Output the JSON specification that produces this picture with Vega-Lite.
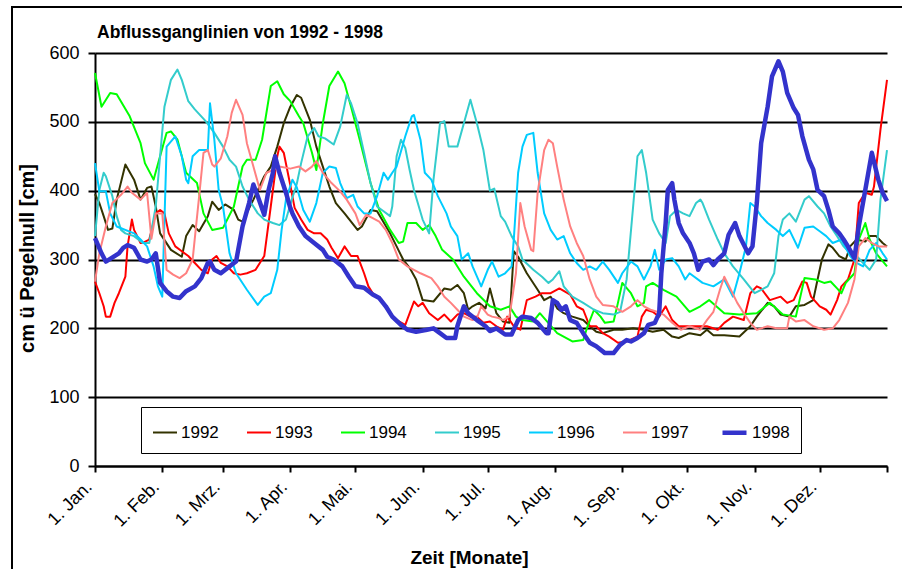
{
"$schema": "https://vega.github.io/schema/vega-lite/v6.json",
"width": 900, "height": 580,
"autosize": {"type": "none"},
"padding": {"left": 12, "top": 7, "right": 0, "bottom": 0},
"background": "white",
"config": {"font": "Liberation Sans", "view": {"stroke": "black", "strokeWidth": 2}},
"title": {"text": "Abflussganglinien von 1992 - 1998", "anchor": "start", "frame": "group", "dx": 85, "offset": -48, "baseline": "alphabetic", "fontSize": 17.5, "fontWeight": "bold", "color": "black", "font": "Liberation Sans"},
"datasets": {"pegel": [
{"Jahr":"1992","Tag":0,"cm":395},{"Jahr":"1992","Tag":2,"cm":382},{"Jahr":"1992","Tag":4,"cm":363},{"Jahr":"1992","Tag":6,"cm":343},{"Jahr":"1992","Tag":8,"cm":345},{"Jahr":"1992","Tag":10,"cm":387},{"Jahr":"1992","Tag":14,"cm":438},{"Jahr":"1992","Tag":18,"cm":416},{"Jahr":"1992","Tag":21,"cm":387},{"Jahr":"1992","Tag":24,"cm":404},{"Jahr":"1992","Tag":26,"cm":406},{"Jahr":"1992","Tag":28,"cm":377},{"Jahr":"1992","Tag":30,"cm":338},{"Jahr":"1992","Tag":35,"cm":314},{"Jahr":"1992","Tag":40,"cm":304},{"Jahr":"1992","Tag":42,"cm":334},{"Jahr":"1992","Tag":45,"cm":350},{"Jahr":"1992","Tag":48,"cm":341},{"Jahr":"1992","Tag":52,"cm":363},{"Jahr":"1992","Tag":54,"cm":384},{"Jahr":"1992","Tag":57,"cm":372},{"Jahr":"1992","Tag":60,"cm":380},{"Jahr":"1992","Tag":64,"cm":372},{"Jahr":"1992","Tag":66,"cm":358},{"Jahr":"1992","Tag":68,"cm":355},{"Jahr":"1992","Tag":73,"cm":387},{"Jahr":"1992","Tag":78,"cm":421},{"Jahr":"1992","Tag":81,"cm":435},{"Jahr":"1992","Tag":84,"cm":464},{"Jahr":"1992","Tag":87,"cm":498},{"Jahr":"1992","Tag":90,"cm":522},{"Jahr":"1992","Tag":93,"cm":539},{"Jahr":"1992","Tag":95,"cm":535},{"Jahr":"1992","Tag":99,"cm":503},{"Jahr":"1992","Tag":102,"cm":464},{"Jahr":"1992","Tag":105,"cm":435},{"Jahr":"1992","Tag":108,"cm":406},{"Jahr":"1992","Tag":111,"cm":382},{"Jahr":"1992","Tag":115,"cm":367},{"Jahr":"1992","Tag":118,"cm":355},{"Jahr":"1992","Tag":121,"cm":343},{"Jahr":"1992","Tag":123,"cm":348},{"Jahr":"1992","Tag":127,"cm":372},{"Jahr":"1992","Tag":130,"cm":370},{"Jahr":"1992","Tag":136,"cm":338},{"Jahr":"1992","Tag":139,"cm":319},{"Jahr":"1992","Tag":142,"cm":300},{"Jahr":"1992","Tag":145,"cm":288},{"Jahr":"1992","Tag":148,"cm":271},{"Jahr":"1992","Tag":151,"cm":241},{"Jahr":"1992","Tag":156,"cm":239},{"Jahr":"1992","Tag":161,"cm":258},{"Jahr":"1992","Tag":164,"cm":256},{"Jahr":"1992","Tag":167,"cm":263},{"Jahr":"1992","Tag":170,"cm":251},{"Jahr":"1992","Tag":172,"cm":227},{"Jahr":"1992","Tag":174,"cm":232},{"Jahr":"1992","Tag":177,"cm":237},{"Jahr":"1992","Tag":180,"cm":229},{"Jahr":"1992","Tag":182,"cm":258},{"Jahr":"1992","Tag":185,"cm":222},{"Jahr":"1992","Tag":188,"cm":210},{"Jahr":"1992","Tag":191,"cm":208},{"Jahr":"1992","Tag":193,"cm":312},{"Jahr":"1992","Tag":195,"cm":304},{"Jahr":"1992","Tag":199,"cm":280},{"Jahr":"1992","Tag":204,"cm":256},{"Jahr":"1992","Tag":207,"cm":241},{"Jahr":"1992","Tag":210,"cm":246},{"Jahr":"1992","Tag":213,"cm":229},{"Jahr":"1992","Tag":216,"cm":222},{"Jahr":"1992","Tag":220,"cm":217},{"Jahr":"1992","Tag":225,"cm":212},{"Jahr":"1992","Tag":228,"cm":203},{"Jahr":"1992","Tag":231,"cm":195},{"Jahr":"1992","Tag":234,"cm":193},{"Jahr":"1992","Tag":239,"cm":198},{"Jahr":"1992","Tag":243,"cm":198},{"Jahr":"1992","Tag":248,"cm":200},{"Jahr":"1992","Tag":253,"cm":198},{"Jahr":"1992","Tag":257,"cm":195},{"Jahr":"1992","Tag":262,"cm":198},{"Jahr":"1992","Tag":266,"cm":188},{"Jahr":"1992","Tag":269,"cm":186},{"Jahr":"1992","Tag":274,"cm":193},{"Jahr":"1992","Tag":279,"cm":190},{"Jahr":"1992","Tag":282,"cm":198},{"Jahr":"1992","Tag":285,"cm":190},{"Jahr":"1992","Tag":290,"cm":190},{"Jahr":"1992","Tag":297,"cm":188},{"Jahr":"1992","Tag":302,"cm":203},{"Jahr":"1992","Tag":305,"cm":217},{"Jahr":"1992","Tag":310,"cm":237},{"Jahr":"1992","Tag":313,"cm":232},{"Jahr":"1992","Tag":316,"cm":220},{"Jahr":"1992","Tag":320,"cm":217},{"Jahr":"1992","Tag":323,"cm":232},{"Jahr":"1992","Tag":327,"cm":234},{"Jahr":"1992","Tag":331,"cm":241},{"Jahr":"1992","Tag":333,"cm":271},{"Jahr":"1992","Tag":335,"cm":300},{"Jahr":"1992","Tag":338,"cm":322},{"Jahr":"1992","Tag":340,"cm":317},{"Jahr":"1992","Tag":343,"cm":305},{"Jahr":"1992","Tag":346,"cm":300},{"Jahr":"1992","Tag":348,"cm":319},{"Jahr":"1992","Tag":351,"cm":329},{"Jahr":"1992","Tag":355,"cm":326},{"Jahr":"1992","Tag":357,"cm":334},{"Jahr":"1992","Tag":360,"cm":334},{"Jahr":"1992","Tag":363,"cm":324},{"Jahr":"1992","Tag":365,"cm":319},
{"Jahr":"1993","Tag":0,"cm":268},{"Jahr":"1993","Tag":2,"cm":251},{"Jahr":"1993","Tag":4,"cm":232},{"Jahr":"1993","Tag":5,"cm":217},{"Jahr":"1993","Tag":7,"cm":217},{"Jahr":"1993","Tag":9,"cm":237},{"Jahr":"1993","Tag":11,"cm":251},{"Jahr":"1993","Tag":14,"cm":275},{"Jahr":"1993","Tag":15,"cm":319},{"Jahr":"1993","Tag":17,"cm":358},{"Jahr":"1993","Tag":18,"cm":343},{"Jahr":"1993","Tag":21,"cm":324},{"Jahr":"1993","Tag":22,"cm":324},{"Jahr":"1993","Tag":25,"cm":329},{"Jahr":"1993","Tag":28,"cm":367},{"Jahr":"1993","Tag":30,"cm":372},{"Jahr":"1993","Tag":32,"cm":367},{"Jahr":"1993","Tag":34,"cm":338},{"Jahr":"1993","Tag":37,"cm":319},{"Jahr":"1993","Tag":40,"cm":312},{"Jahr":"1993","Tag":43,"cm":305},{"Jahr":"1993","Tag":46,"cm":295},{"Jahr":"1993","Tag":49,"cm":285},{"Jahr":"1993","Tag":52,"cm":280},{"Jahr":"1993","Tag":54,"cm":300},{"Jahr":"1993","Tag":56,"cm":305},{"Jahr":"1993","Tag":58,"cm":295},{"Jahr":"1993","Tag":61,"cm":290},{"Jahr":"1993","Tag":64,"cm":280},{"Jahr":"1993","Tag":67,"cm":278},{"Jahr":"1993","Tag":70,"cm":280},{"Jahr":"1993","Tag":74,"cm":285},{"Jahr":"1993","Tag":78,"cm":305},{"Jahr":"1993","Tag":81,"cm":377},{"Jahr":"1993","Tag":84,"cm":450},{"Jahr":"1993","Tag":85,"cm":464},{"Jahr":"1993","Tag":87,"cm":455},{"Jahr":"1993","Tag":90,"cm":408},{"Jahr":"1993","Tag":92,"cm":375},{"Jahr":"1993","Tag":95,"cm":358},{"Jahr":"1993","Tag":98,"cm":343},{"Jahr":"1993","Tag":101,"cm":338},{"Jahr":"1993","Tag":104,"cm":338},{"Jahr":"1993","Tag":107,"cm":329},{"Jahr":"1993","Tag":109,"cm":317},{"Jahr":"1993","Tag":112,"cm":302},{"Jahr":"1993","Tag":115,"cm":319},{"Jahr":"1993","Tag":118,"cm":305},{"Jahr":"1993","Tag":121,"cm":305},{"Jahr":"1993","Tag":124,"cm":280},{"Jahr":"1993","Tag":126,"cm":261},{"Jahr":"1993","Tag":128,"cm":251},{"Jahr":"1993","Tag":132,"cm":242},{"Jahr":"1993","Tag":136,"cm":222},{"Jahr":"1993","Tag":139,"cm":212},{"Jahr":"1993","Tag":143,"cm":205},{"Jahr":"1993","Tag":147,"cm":239},{"Jahr":"1993","Tag":149,"cm":232},{"Jahr":"1993","Tag":151,"cm":237},{"Jahr":"1993","Tag":154,"cm":222},{"Jahr":"1993","Tag":158,"cm":212},{"Jahr":"1993","Tag":161,"cm":220},{"Jahr":"1993","Tag":164,"cm":210},{"Jahr":"1993","Tag":167,"cm":220},{"Jahr":"1993","Tag":170,"cm":222},{"Jahr":"1993","Tag":173,"cm":217},{"Jahr":"1993","Tag":176,"cm":217},{"Jahr":"1993","Tag":179,"cm":208},{"Jahr":"1993","Tag":182,"cm":210},{"Jahr":"1993","Tag":185,"cm":203},{"Jahr":"1993","Tag":188,"cm":198},{"Jahr":"1993","Tag":190,"cm":217},{"Jahr":"1993","Tag":193,"cm":203},{"Jahr":"1993","Tag":196,"cm":198},{"Jahr":"1993","Tag":199,"cm":241},{"Jahr":"1993","Tag":203,"cm":246},{"Jahr":"1993","Tag":206,"cm":251},{"Jahr":"1993","Tag":210,"cm":251},{"Jahr":"1993","Tag":214,"cm":258},{"Jahr":"1993","Tag":219,"cm":249},{"Jahr":"1993","Tag":222,"cm":232},{"Jahr":"1993","Tag":225,"cm":227},{"Jahr":"1993","Tag":228,"cm":203},{"Jahr":"1993","Tag":231,"cm":203},{"Jahr":"1993","Tag":234,"cm":193},{"Jahr":"1993","Tag":237,"cm":188},{"Jahr":"1993","Tag":241,"cm":179},{"Jahr":"1993","Tag":245,"cm":181},{"Jahr":"1993","Tag":250,"cm":188},{"Jahr":"1993","Tag":252,"cm":217},{"Jahr":"1993","Tag":254,"cm":227},{"Jahr":"1993","Tag":257,"cm":224},{"Jahr":"1993","Tag":260,"cm":217},{"Jahr":"1993","Tag":263,"cm":232},{"Jahr":"1993","Tag":266,"cm":212},{"Jahr":"1993","Tag":269,"cm":203},{"Jahr":"1993","Tag":274,"cm":203},{"Jahr":"1993","Tag":279,"cm":203},{"Jahr":"1993","Tag":282,"cm":203},{"Jahr":"1993","Tag":287,"cm":198},{"Jahr":"1993","Tag":290,"cm":208},{"Jahr":"1993","Tag":294,"cm":217},{"Jahr":"1993","Tag":299,"cm":212},{"Jahr":"1993","Tag":302,"cm":251},{"Jahr":"1993","Tag":305,"cm":261},{"Jahr":"1993","Tag":307,"cm":258},{"Jahr":"1993","Tag":311,"cm":241},{"Jahr":"1993","Tag":316,"cm":246},{"Jahr":"1993","Tag":319,"cm":237},{"Jahr":"1993","Tag":322,"cm":241},{"Jahr":"1993","Tag":326,"cm":268},{"Jahr":"1993","Tag":328,"cm":266},{"Jahr":"1993","Tag":330,"cm":246},{"Jahr":"1993","Tag":334,"cm":232},{"Jahr":"1993","Tag":337,"cm":227},{"Jahr":"1993","Tag":339,"cm":220},{"Jahr":"1993","Tag":342,"cm":241},{"Jahr":"1993","Tag":344,"cm":261},{"Jahr":"1993","Tag":347,"cm":271},{"Jahr":"1993","Tag":350,"cm":300},{"Jahr":"1993","Tag":352,"cm":382},{"Jahr":"1993","Tag":355,"cm":397},{"Jahr":"1993","Tag":358,"cm":394},{"Jahr":"1993","Tag":359,"cm":406},{"Jahr":"1993","Tag":362,"cm":489},{"Jahr":"1993","Tag":365,"cm":561},
{"Jahr":"1994","Tag":0,"cm":571},{"Jahr":"1994","Tag":3,"cm":522},{"Jahr":"1994","Tag":7,"cm":542},{"Jahr":"1994","Tag":10,"cm":540},{"Jahr":"1994","Tag":16,"cm":508},{"Jahr":"1994","Tag":21,"cm":469},{"Jahr":"1994","Tag":23,"cm":440},{"Jahr":"1994","Tag":27,"cm":416},{"Jahr":"1994","Tag":33,"cm":484},{"Jahr":"1994","Tag":35,"cm":486},{"Jahr":"1994","Tag":38,"cm":474},{"Jahr":"1994","Tag":42,"cm":426},{"Jahr":"1994","Tag":47,"cm":411},{"Jahr":"1994","Tag":50,"cm":367},{"Jahr":"1994","Tag":54,"cm":343},{"Jahr":"1994","Tag":59,"cm":346},{"Jahr":"1994","Tag":64,"cm":377},{"Jahr":"1994","Tag":68,"cm":435},{"Jahr":"1994","Tag":70,"cm":445},{"Jahr":"1994","Tag":74,"cm":445},{"Jahr":"1994","Tag":77,"cm":474},{"Jahr":"1994","Tag":81,"cm":552},{"Jahr":"1994","Tag":84,"cm":559},{"Jahr":"1994","Tag":87,"cm":540},{"Jahr":"1994","Tag":90,"cm":530},{"Jahr":"1994","Tag":94,"cm":508},{"Jahr":"1994","Tag":96,"cm":498},{"Jahr":"1994","Tag":100,"cm":455},{"Jahr":"1994","Tag":102,"cm":430},{"Jahr":"1994","Tag":105,"cm":498},{"Jahr":"1994","Tag":108,"cm":552},{"Jahr":"1994","Tag":112,"cm":573},{"Jahr":"1994","Tag":115,"cm":556},{"Jahr":"1994","Tag":118,"cm":522},{"Jahr":"1994","Tag":122,"cm":474},{"Jahr":"1994","Tag":127,"cm":411},{"Jahr":"1994","Tag":131,"cm":372},{"Jahr":"1994","Tag":136,"cm":343},{"Jahr":"1994","Tag":140,"cm":324},{"Jahr":"1994","Tag":142,"cm":326},{"Jahr":"1994","Tag":144,"cm":353},{"Jahr":"1994","Tag":148,"cm":353},{"Jahr":"1994","Tag":151,"cm":343},{"Jahr":"1994","Tag":154,"cm":350},{"Jahr":"1994","Tag":157,"cm":334},{"Jahr":"1994","Tag":160,"cm":314},{"Jahr":"1994","Tag":165,"cm":300},{"Jahr":"1994","Tag":170,"cm":275},{"Jahr":"1994","Tag":176,"cm":251},{"Jahr":"1994","Tag":182,"cm":232},{"Jahr":"1994","Tag":187,"cm":227},{"Jahr":"1994","Tag":191,"cm":232},{"Jahr":"1994","Tag":194,"cm":217},{"Jahr":"1994","Tag":197,"cm":212},{"Jahr":"1994","Tag":202,"cm":210},{"Jahr":"1994","Tag":205,"cm":222},{"Jahr":"1994","Tag":213,"cm":193},{"Jahr":"1994","Tag":220,"cm":181},{"Jahr":"1994","Tag":225,"cm":183},{"Jahr":"1994","Tag":227,"cm":203},{"Jahr":"1994","Tag":230,"cm":227},{"Jahr":"1994","Tag":233,"cm":217},{"Jahr":"1994","Tag":235,"cm":208},{"Jahr":"1994","Tag":239,"cm":210},{"Jahr":"1994","Tag":241,"cm":237},{"Jahr":"1994","Tag":243,"cm":266},{"Jahr":"1994","Tag":247,"cm":251},{"Jahr":"1994","Tag":250,"cm":232},{"Jahr":"1994","Tag":253,"cm":237},{"Jahr":"1994","Tag":254,"cm":261},{"Jahr":"1994","Tag":257,"cm":266},{"Jahr":"1994","Tag":262,"cm":256},{"Jahr":"1994","Tag":268,"cm":246},{"Jahr":"1994","Tag":274,"cm":224},{"Jahr":"1994","Tag":279,"cm":232},{"Jahr":"1994","Tag":283,"cm":241},{"Jahr":"1994","Tag":290,"cm":222},{"Jahr":"1994","Tag":297,"cm":220},{"Jahr":"1994","Tag":305,"cm":222},{"Jahr":"1994","Tag":311,"cm":237},{"Jahr":"1994","Tag":317,"cm":220},{"Jahr":"1994","Tag":323,"cm":217},{"Jahr":"1994","Tag":327,"cm":273},{"Jahr":"1994","Tag":332,"cm":271},{"Jahr":"1994","Tag":336,"cm":266},{"Jahr":"1994","Tag":339,"cm":268},{"Jahr":"1994","Tag":342,"cm":258},{"Jahr":"1994","Tag":344,"cm":251},{"Jahr":"1994","Tag":346,"cm":266},{"Jahr":"1994","Tag":350,"cm":280},{"Jahr":"1994","Tag":352,"cm":329},{"Jahr":"1994","Tag":355,"cm":353},{"Jahr":"1994","Tag":357,"cm":329},{"Jahr":"1994","Tag":360,"cm":309},{"Jahr":"1994","Tag":365,"cm":290},
{"Jahr":"1995","Tag":0,"cm":334},{"Jahr":"1995","Tag":2,"cm":401},{"Jahr":"1995","Tag":4,"cm":426},{"Jahr":"1995","Tag":5,"cm":421},{"Jahr":"1995","Tag":8,"cm":392},{"Jahr":"1995","Tag":10,"cm":363},{"Jahr":"1995","Tag":12,"cm":343},{"Jahr":"1995","Tag":14,"cm":338},{"Jahr":"1995","Tag":18,"cm":334},{"Jahr":"1995","Tag":22,"cm":324},{"Jahr":"1995","Tag":25,"cm":324},{"Jahr":"1995","Tag":28,"cm":377},{"Jahr":"1995","Tag":30,"cm":450},{"Jahr":"1995","Tag":32,"cm":522},{"Jahr":"1995","Tag":35,"cm":561},{"Jahr":"1995","Tag":38,"cm":576},{"Jahr":"1995","Tag":40,"cm":561},{"Jahr":"1995","Tag":43,"cm":530},{"Jahr":"1995","Tag":46,"cm":518},{"Jahr":"1995","Tag":51,"cm":501},{"Jahr":"1995","Tag":55,"cm":484},{"Jahr":"1995","Tag":59,"cm":464},{"Jahr":"1995","Tag":62,"cm":445},{"Jahr":"1995","Tag":65,"cm":435},{"Jahr":"1995","Tag":68,"cm":406},{"Jahr":"1995","Tag":71,"cm":387},{"Jahr":"1995","Tag":75,"cm":367},{"Jahr":"1995","Tag":78,"cm":358},{"Jahr":"1995","Tag":82,"cm":353},{"Jahr":"1995","Tag":85,"cm":350},{"Jahr":"1995","Tag":88,"cm":358},{"Jahr":"1995","Tag":91,"cm":390},{"Jahr":"1995","Tag":93,"cm":410},{"Jahr":"1995","Tag":95,"cm":440},{"Jahr":"1995","Tag":98,"cm":479},{"Jahr":"1995","Tag":101,"cm":491},{"Jahr":"1995","Tag":103,"cm":479},{"Jahr":"1995","Tag":106,"cm":476},{"Jahr":"1995","Tag":110,"cm":467},{"Jahr":"1995","Tag":113,"cm":493},{"Jahr":"1995","Tag":116,"cm":539},{"Jahr":"1995","Tag":118,"cm":527},{"Jahr":"1995","Tag":121,"cm":498},{"Jahr":"1995","Tag":124,"cm":455},{"Jahr":"1995","Tag":127,"cm":411},{"Jahr":"1995","Tag":130,"cm":377},{"Jahr":"1995","Tag":133,"cm":370},{"Jahr":"1995","Tag":136,"cm":363},{"Jahr":"1995","Tag":137,"cm":377},{"Jahr":"1995","Tag":139,"cm":450},{"Jahr":"1995","Tag":141,"cm":474},{"Jahr":"1995","Tag":143,"cm":462},{"Jahr":"1995","Tag":145,"cm":430},{"Jahr":"1995","Tag":147,"cm":401},{"Jahr":"1995","Tag":151,"cm":358},{"Jahr":"1995","Tag":154,"cm":338},{"Jahr":"1995","Tag":156,"cm":416},{"Jahr":"1995","Tag":159,"cm":498},{"Jahr":"1995","Tag":161,"cm":501},{"Jahr":"1995","Tag":163,"cm":464},{"Jahr":"1995","Tag":167,"cm":464},{"Jahr":"1995","Tag":170,"cm":498},{"Jahr":"1995","Tag":173,"cm":532},{"Jahr":"1995","Tag":176,"cm":498},{"Jahr":"1995","Tag":179,"cm":459},{"Jahr":"1995","Tag":182,"cm":400},{"Jahr":"1995","Tag":184,"cm":403},{"Jahr":"1995","Tag":187,"cm":363},{"Jahr":"1995","Tag":189,"cm":355},{"Jahr":"1995","Tag":192,"cm":334},{"Jahr":"1995","Tag":195,"cm":319},{"Jahr":"1995","Tag":197,"cm":300},{"Jahr":"1995","Tag":202,"cm":285},{"Jahr":"1995","Tag":206,"cm":275},{"Jahr":"1995","Tag":209,"cm":266},{"Jahr":"1995","Tag":211,"cm":271},{"Jahr":"1995","Tag":214,"cm":283},{"Jahr":"1995","Tag":216,"cm":261},{"Jahr":"1995","Tag":220,"cm":246},{"Jahr":"1995","Tag":225,"cm":237},{"Jahr":"1995","Tag":230,"cm":227},{"Jahr":"1995","Tag":234,"cm":222},{"Jahr":"1995","Tag":239,"cm":220},{"Jahr":"1995","Tag":242,"cm":224},{"Jahr":"1995","Tag":245,"cm":271},{"Jahr":"1995","Tag":248,"cm":377},{"Jahr":"1995","Tag":250,"cm":450},{"Jahr":"1995","Tag":252,"cm":459},{"Jahr":"1995","Tag":254,"cm":426},{"Jahr":"1995","Tag":257,"cm":358},{"Jahr":"1995","Tag":260,"cm":338},{"Jahr":"1995","Tag":263,"cm":324},{"Jahr":"1995","Tag":265,"cm":363},{"Jahr":"1995","Tag":268,"cm":372},{"Jahr":"1995","Tag":271,"cm":367},{"Jahr":"1995","Tag":274,"cm":363},{"Jahr":"1995","Tag":277,"cm":382},{"Jahr":"1995","Tag":279,"cm":387},{"Jahr":"1995","Tag":280,"cm":382},{"Jahr":"1995","Tag":283,"cm":358},{"Jahr":"1995","Tag":287,"cm":329},{"Jahr":"1995","Tag":290,"cm":309},{"Jahr":"1995","Tag":294,"cm":290},{"Jahr":"1995","Tag":299,"cm":271},{"Jahr":"1995","Tag":304,"cm":251},{"Jahr":"1995","Tag":307,"cm":256},{"Jahr":"1995","Tag":310,"cm":261},{"Jahr":"1995","Tag":313,"cm":280},{"Jahr":"1995","Tag":315,"cm":334},{"Jahr":"1995","Tag":317,"cm":358},{"Jahr":"1995","Tag":320,"cm":367},{"Jahr":"1995","Tag":323,"cm":355},{"Jahr":"1995","Tag":327,"cm":387},{"Jahr":"1995","Tag":329,"cm":392},{"Jahr":"1995","Tag":333,"cm":377},{"Jahr":"1995","Tag":336,"cm":367},{"Jahr":"1995","Tag":339,"cm":348},{"Jahr":"1995","Tag":342,"cm":334},{"Jahr":"1995","Tag":345,"cm":319},{"Jahr":"1995","Tag":348,"cm":309},{"Jahr":"1995","Tag":351,"cm":305},{"Jahr":"1995","Tag":354,"cm":295},{"Jahr":"1995","Tag":357,"cm":285},{"Jahr":"1995","Tag":360,"cm":300},{"Jahr":"1995","Tag":362,"cm":387},{"Jahr":"1995","Tag":365,"cm":459},
{"Jahr":"1996","Tag":0,"cm":440},{"Jahr":"1996","Tag":2,"cm":399},{"Jahr":"1996","Tag":5,"cm":399},{"Jahr":"1996","Tag":7,"cm":367},{"Jahr":"1996","Tag":10,"cm":348},{"Jahr":"1996","Tag":18,"cm":338},{"Jahr":"1996","Tag":21,"cm":329},{"Jahr":"1996","Tag":24,"cm":319},{"Jahr":"1996","Tag":27,"cm":290},{"Jahr":"1996","Tag":29,"cm":261},{"Jahr":"1996","Tag":31,"cm":246},{"Jahr":"1996","Tag":33,"cm":464},{"Jahr":"1996","Tag":37,"cm":479},{"Jahr":"1996","Tag":40,"cm":450},{"Jahr":"1996","Tag":42,"cm":416},{"Jahr":"1996","Tag":43,"cm":411},{"Jahr":"1996","Tag":45,"cm":450},{"Jahr":"1996","Tag":48,"cm":459},{"Jahr":"1996","Tag":52,"cm":459},{"Jahr":"1996","Tag":53,"cm":527},{"Jahr":"1996","Tag":55,"cm":474},{"Jahr":"1996","Tag":57,"cm":401},{"Jahr":"1996","Tag":59,"cm":377},{"Jahr":"1996","Tag":62,"cm":309},{"Jahr":"1996","Tag":65,"cm":280},{"Jahr":"1996","Tag":70,"cm":256},{"Jahr":"1996","Tag":75,"cm":234},{"Jahr":"1996","Tag":78,"cm":246},{"Jahr":"1996","Tag":81,"cm":251},{"Jahr":"1996","Tag":84,"cm":285},{"Jahr":"1996","Tag":86,"cm":343},{"Jahr":"1996","Tag":88,"cm":387},{"Jahr":"1996","Tag":91,"cm":416},{"Jahr":"1996","Tag":93,"cm":405},{"Jahr":"1996","Tag":96,"cm":372},{"Jahr":"1996","Tag":99,"cm":355},{"Jahr":"1996","Tag":102,"cm":382},{"Jahr":"1996","Tag":105,"cm":426},{"Jahr":"1996","Tag":108,"cm":435},{"Jahr":"1996","Tag":111,"cm":433},{"Jahr":"1996","Tag":113,"cm":411},{"Jahr":"1996","Tag":116,"cm":389},{"Jahr":"1996","Tag":119,"cm":394},{"Jahr":"1996","Tag":121,"cm":377},{"Jahr":"1996","Tag":124,"cm":367},{"Jahr":"1996","Tag":127,"cm":367},{"Jahr":"1996","Tag":130,"cm":392},{"Jahr":"1996","Tag":133,"cm":426},{"Jahr":"1996","Tag":135,"cm":416},{"Jahr":"1996","Tag":137,"cm":426},{"Jahr":"1996","Tag":139,"cm":435},{"Jahr":"1996","Tag":143,"cm":479},{"Jahr":"1996","Tag":146,"cm":508},{"Jahr":"1996","Tag":147,"cm":510},{"Jahr":"1996","Tag":150,"cm":474},{"Jahr":"1996","Tag":152,"cm":426},{"Jahr":"1996","Tag":155,"cm":416},{"Jahr":"1996","Tag":158,"cm":392},{"Jahr":"1996","Tag":162,"cm":367},{"Jahr":"1996","Tag":164,"cm":348},{"Jahr":"1996","Tag":167,"cm":334},{"Jahr":"1996","Tag":169,"cm":300},{"Jahr":"1996","Tag":172,"cm":309},{"Jahr":"1996","Tag":174,"cm":290},{"Jahr":"1996","Tag":178,"cm":261},{"Jahr":"1996","Tag":181,"cm":285},{"Jahr":"1996","Tag":183,"cm":297},{"Jahr":"1996","Tag":186,"cm":275},{"Jahr":"1996","Tag":189,"cm":280},{"Jahr":"1996","Tag":192,"cm":290},{"Jahr":"1996","Tag":193,"cm":329},{"Jahr":"1996","Tag":195,"cm":426},{"Jahr":"1996","Tag":197,"cm":464},{"Jahr":"1996","Tag":199,"cm":481},{"Jahr":"1996","Tag":202,"cm":484},{"Jahr":"1996","Tag":204,"cm":426},{"Jahr":"1996","Tag":207,"cm":367},{"Jahr":"1996","Tag":210,"cm":343},{"Jahr":"1996","Tag":213,"cm":329},{"Jahr":"1996","Tag":216,"cm":334},{"Jahr":"1996","Tag":219,"cm":309},{"Jahr":"1996","Tag":222,"cm":295},{"Jahr":"1996","Tag":225,"cm":285},{"Jahr":"1996","Tag":228,"cm":290},{"Jahr":"1996","Tag":231,"cm":285},{"Jahr":"1996","Tag":234,"cm":297},{"Jahr":"1996","Tag":237,"cm":285},{"Jahr":"1996","Tag":241,"cm":266},{"Jahr":"1996","Tag":243,"cm":280},{"Jahr":"1996","Tag":247,"cm":297},{"Jahr":"1996","Tag":250,"cm":290},{"Jahr":"1996","Tag":253,"cm":271},{"Jahr":"1996","Tag":256,"cm":290},{"Jahr":"1996","Tag":258,"cm":314},{"Jahr":"1996","Tag":260,"cm":285},{"Jahr":"1996","Tag":263,"cm":300},{"Jahr":"1996","Tag":266,"cm":302},{"Jahr":"1996","Tag":269,"cm":290},{"Jahr":"1996","Tag":272,"cm":271},{"Jahr":"1996","Tag":274,"cm":280},{"Jahr":"1996","Tag":280,"cm":266},{"Jahr":"1996","Tag":285,"cm":261},{"Jahr":"1996","Tag":290,"cm":271},{"Jahr":"1996","Tag":294,"cm":246},{"Jahr":"1996","Tag":297,"cm":280},{"Jahr":"1996","Tag":300,"cm":319},{"Jahr":"1996","Tag":302,"cm":382},{"Jahr":"1996","Tag":304,"cm":377},{"Jahr":"1996","Tag":307,"cm":363},{"Jahr":"1996","Tag":310,"cm":353},{"Jahr":"1996","Tag":314,"cm":343},{"Jahr":"1996","Tag":317,"cm":334},{"Jahr":"1996","Tag":320,"cm":343},{"Jahr":"1996","Tag":324,"cm":317},{"Jahr":"1996","Tag":327,"cm":346},{"Jahr":"1996","Tag":331,"cm":348},{"Jahr":"1996","Tag":334,"cm":341},{"Jahr":"1996","Tag":337,"cm":334},{"Jahr":"1996","Tag":340,"cm":324},{"Jahr":"1996","Tag":344,"cm":329},{"Jahr":"1996","Tag":348,"cm":305},{"Jahr":"1996","Tag":351,"cm":295},{"Jahr":"1996","Tag":354,"cm":290},{"Jahr":"1996","Tag":357,"cm":314},{"Jahr":"1996","Tag":360,"cm":324},{"Jahr":"1996","Tag":363,"cm":309},{"Jahr":"1996","Tag":365,"cm":300},
{"Jahr":"1997","Tag":0,"cm":268},{"Jahr":"1997","Tag":2,"cm":309},{"Jahr":"1997","Tag":5,"cm":348},{"Jahr":"1997","Tag":8,"cm":382},{"Jahr":"1997","Tag":12,"cm":394},{"Jahr":"1997","Tag":15,"cm":406},{"Jahr":"1997","Tag":17,"cm":397},{"Jahr":"1997","Tag":21,"cm":387},{"Jahr":"1997","Tag":24,"cm":397},{"Jahr":"1997","Tag":26,"cm":330},{"Jahr":"1997","Tag":28,"cm":367},{"Jahr":"1997","Tag":31,"cm":367},{"Jahr":"1997","Tag":33,"cm":285},{"Jahr":"1997","Tag":36,"cm":278},{"Jahr":"1997","Tag":39,"cm":273},{"Jahr":"1997","Tag":42,"cm":280},{"Jahr":"1997","Tag":45,"cm":300},{"Jahr":"1997","Tag":48,"cm":392},{"Jahr":"1997","Tag":50,"cm":455},{"Jahr":"1997","Tag":52,"cm":459},{"Jahr":"1997","Tag":54,"cm":438},{"Jahr":"1997","Tag":55,"cm":435},{"Jahr":"1997","Tag":58,"cm":447},{"Jahr":"1997","Tag":61,"cm":479},{"Jahr":"1997","Tag":63,"cm":513},{"Jahr":"1997","Tag":65,"cm":532},{"Jahr":"1997","Tag":68,"cm":510},{"Jahr":"1997","Tag":70,"cm":469},{"Jahr":"1997","Tag":73,"cm":435},{"Jahr":"1997","Tag":76,"cm":401},{"Jahr":"1997","Tag":79,"cm":426},{"Jahr":"1997","Tag":82,"cm":430},{"Jahr":"1997","Tag":85,"cm":435},{"Jahr":"1997","Tag":90,"cm":432},{"Jahr":"1997","Tag":94,"cm":435},{"Jahr":"1997","Tag":97,"cm":428},{"Jahr":"1997","Tag":100,"cm":435},{"Jahr":"1997","Tag":102,"cm":443},{"Jahr":"1997","Tag":105,"cm":426},{"Jahr":"1997","Tag":109,"cm":411},{"Jahr":"1997","Tag":113,"cm":399},{"Jahr":"1997","Tag":116,"cm":387},{"Jahr":"1997","Tag":120,"cm":367},{"Jahr":"1997","Tag":122,"cm":350},{"Jahr":"1997","Tag":125,"cm":365},{"Jahr":"1997","Tag":128,"cm":360},{"Jahr":"1997","Tag":131,"cm":355},{"Jahr":"1997","Tag":134,"cm":343},{"Jahr":"1997","Tag":137,"cm":324},{"Jahr":"1997","Tag":140,"cm":300},{"Jahr":"1997","Tag":144,"cm":290},{"Jahr":"1997","Tag":147,"cm":285},{"Jahr":"1997","Tag":150,"cm":280},{"Jahr":"1997","Tag":155,"cm":273},{"Jahr":"1997","Tag":158,"cm":261},{"Jahr":"1997","Tag":161,"cm":246},{"Jahr":"1997","Tag":164,"cm":237},{"Jahr":"1997","Tag":167,"cm":227},{"Jahr":"1997","Tag":170,"cm":217},{"Jahr":"1997","Tag":174,"cm":212},{"Jahr":"1997","Tag":176,"cm":215},{"Jahr":"1997","Tag":178,"cm":232},{"Jahr":"1997","Tag":181,"cm":220},{"Jahr":"1997","Tag":183,"cm":217},{"Jahr":"1997","Tag":186,"cm":215},{"Jahr":"1997","Tag":188,"cm":212},{"Jahr":"1997","Tag":191,"cm":217},{"Jahr":"1997","Tag":194,"cm":280},{"Jahr":"1997","Tag":196,"cm":382},{"Jahr":"1997","Tag":198,"cm":348},{"Jahr":"1997","Tag":201,"cm":314},{"Jahr":"1997","Tag":202,"cm":312},{"Jahr":"1997","Tag":204,"cm":397},{"Jahr":"1997","Tag":207,"cm":459},{"Jahr":"1997","Tag":209,"cm":474},{"Jahr":"1997","Tag":211,"cm":469},{"Jahr":"1997","Tag":213,"cm":435},{"Jahr":"1997","Tag":216,"cm":387},{"Jahr":"1997","Tag":219,"cm":348},{"Jahr":"1997","Tag":222,"cm":324},{"Jahr":"1997","Tag":225,"cm":305},{"Jahr":"1997","Tag":228,"cm":271},{"Jahr":"1997","Tag":231,"cm":246},{"Jahr":"1997","Tag":234,"cm":234},{"Jahr":"1997","Tag":239,"cm":232},{"Jahr":"1997","Tag":243,"cm":224},{"Jahr":"1997","Tag":247,"cm":232},{"Jahr":"1997","Tag":250,"cm":241},{"Jahr":"1997","Tag":253,"cm":232},{"Jahr":"1997","Tag":256,"cm":227},{"Jahr":"1997","Tag":259,"cm":224},{"Jahr":"1997","Tag":262,"cm":220},{"Jahr":"1997","Tag":266,"cm":208},{"Jahr":"1997","Tag":270,"cm":198},{"Jahr":"1997","Tag":274,"cm":203},{"Jahr":"1997","Tag":279,"cm":198},{"Jahr":"1997","Tag":282,"cm":212},{"Jahr":"1997","Tag":285,"cm":224},{"Jahr":"1997","Tag":288,"cm":256},{"Jahr":"1997","Tag":290,"cm":275},{"Jahr":"1997","Tag":293,"cm":256},{"Jahr":"1997","Tag":296,"cm":237},{"Jahr":"1997","Tag":299,"cm":222},{"Jahr":"1997","Tag":302,"cm":208},{"Jahr":"1997","Tag":305,"cm":198},{"Jahr":"1997","Tag":310,"cm":203},{"Jahr":"1997","Tag":314,"cm":200},{"Jahr":"1997","Tag":319,"cm":200},{"Jahr":"1997","Tag":320,"cm":217},{"Jahr":"1997","Tag":323,"cm":210},{"Jahr":"1997","Tag":327,"cm":212},{"Jahr":"1997","Tag":331,"cm":203},{"Jahr":"1997","Tag":336,"cm":198},{"Jahr":"1997","Tag":340,"cm":200},{"Jahr":"1997","Tag":343,"cm":212},{"Jahr":"1997","Tag":347,"cm":237},{"Jahr":"1997","Tag":350,"cm":271},{"Jahr":"1997","Tag":352,"cm":319},{"Jahr":"1997","Tag":355,"cm":331},{"Jahr":"1997","Tag":358,"cm":324},{"Jahr":"1997","Tag":361,"cm":319},{"Jahr":"1997","Tag":365,"cm":319},
{"Jahr":"1998","Tag":0,"cm":331},{"Jahr":"1998","Tag":3,"cm":309},{"Jahr":"1998","Tag":5,"cm":297},{"Jahr":"1998","Tag":9,"cm":305},{"Jahr":"1998","Tag":11,"cm":309},{"Jahr":"1998","Tag":13,"cm":317},{"Jahr":"1998","Tag":15,"cm":321},{"Jahr":"1998","Tag":18,"cm":317},{"Jahr":"1998","Tag":21,"cm":300},{"Jahr":"1998","Tag":24,"cm":297},{"Jahr":"1998","Tag":26,"cm":300},{"Jahr":"1998","Tag":28,"cm":309},{"Jahr":"1998","Tag":30,"cm":266},{"Jahr":"1998","Tag":33,"cm":254},{"Jahr":"1998","Tag":36,"cm":246},{"Jahr":"1998","Tag":39,"cm":244},{"Jahr":"1998","Tag":42,"cm":254},{"Jahr":"1998","Tag":46,"cm":261},{"Jahr":"1998","Tag":49,"cm":273},{"Jahr":"1998","Tag":52,"cm":295},{"Jahr":"1998","Tag":53,"cm":297},{"Jahr":"1998","Tag":55,"cm":285},{"Jahr":"1998","Tag":58,"cm":280},{"Jahr":"1998","Tag":62,"cm":290},{"Jahr":"1998","Tag":65,"cm":297},{"Jahr":"1998","Tag":68,"cm":348},{"Jahr":"1998","Tag":71,"cm":382},{"Jahr":"1998","Tag":73,"cm":409},{"Jahr":"1998","Tag":75,"cm":392},{"Jahr":"1998","Tag":78,"cm":365},{"Jahr":"1998","Tag":80,"cm":401},{"Jahr":"1998","Tag":82,"cm":426},{"Jahr":"1998","Tag":83,"cm":450},{"Jahr":"1998","Tag":85,"cm":426},{"Jahr":"1998","Tag":88,"cm":397},{"Jahr":"1998","Tag":90,"cm":375},{"Jahr":"1998","Tag":91,"cm":367},{"Jahr":"1998","Tag":94,"cm":348},{"Jahr":"1998","Tag":97,"cm":334},{"Jahr":"1998","Tag":101,"cm":324},{"Jahr":"1998","Tag":105,"cm":314},{"Jahr":"1998","Tag":107,"cm":304},{"Jahr":"1998","Tag":110,"cm":300},{"Jahr":"1998","Tag":114,"cm":290},{"Jahr":"1998","Tag":117,"cm":275},{"Jahr":"1998","Tag":120,"cm":261},{"Jahr":"1998","Tag":124,"cm":259},{"Jahr":"1998","Tag":128,"cm":249},{"Jahr":"1998","Tag":131,"cm":244},{"Jahr":"1998","Tag":134,"cm":232},{"Jahr":"1998","Tag":137,"cm":217},{"Jahr":"1998","Tag":141,"cm":205},{"Jahr":"1998","Tag":144,"cm":198},{"Jahr":"1998","Tag":148,"cm":195},{"Jahr":"1998","Tag":153,"cm":198},{"Jahr":"1998","Tag":156,"cm":200},{"Jahr":"1998","Tag":159,"cm":193},{"Jahr":"1998","Tag":162,"cm":186},{"Jahr":"1998","Tag":166,"cm":186},{"Jahr":"1998","Tag":167,"cm":203},{"Jahr":"1998","Tag":170,"cm":232},{"Jahr":"1998","Tag":172,"cm":222},{"Jahr":"1998","Tag":176,"cm":212},{"Jahr":"1998","Tag":180,"cm":203},{"Jahr":"1998","Tag":182,"cm":196},{"Jahr":"1998","Tag":185,"cm":200},{"Jahr":"1998","Tag":189,"cm":191},{"Jahr":"1998","Tag":192,"cm":191},{"Jahr":"1998","Tag":195,"cm":212},{"Jahr":"1998","Tag":197,"cm":217},{"Jahr":"1998","Tag":201,"cm":215},{"Jahr":"1998","Tag":204,"cm":208},{"Jahr":"1998","Tag":208,"cm":193},{"Jahr":"1998","Tag":209,"cm":193},{"Jahr":"1998","Tag":211,"cm":241},{"Jahr":"1998","Tag":213,"cm":237},{"Jahr":"1998","Tag":215,"cm":227},{"Jahr":"1998","Tag":217,"cm":232},{"Jahr":"1998","Tag":219,"cm":212},{"Jahr":"1998","Tag":222,"cm":208},{"Jahr":"1998","Tag":225,"cm":193},{"Jahr":"1998","Tag":228,"cm":179},{"Jahr":"1998","Tag":231,"cm":174},{"Jahr":"1998","Tag":235,"cm":164},{"Jahr":"1998","Tag":239,"cm":164},{"Jahr":"1998","Tag":242,"cm":176},{"Jahr":"1998","Tag":245,"cm":183},{"Jahr":"1998","Tag":247,"cm":181},{"Jahr":"1998","Tag":250,"cm":186},{"Jahr":"1998","Tag":253,"cm":193},{"Jahr":"1998","Tag":255,"cm":205},{"Jahr":"1998","Tag":258,"cm":208},{"Jahr":"1998","Tag":260,"cm":222},{"Jahr":"1998","Tag":261,"cm":280},{"Jahr":"1998","Tag":263,"cm":353},{"Jahr":"1998","Tag":264,"cm":401},{"Jahr":"1998","Tag":266,"cm":411},{"Jahr":"1998","Tag":267,"cm":387},{"Jahr":"1998","Tag":269,"cm":353},{"Jahr":"1998","Tag":271,"cm":338},{"Jahr":"1998","Tag":274,"cm":324},{"Jahr":"1998","Tag":276,"cm":309},{"Jahr":"1998","Tag":278,"cm":285},{"Jahr":"1998","Tag":280,"cm":297},{"Jahr":"1998","Tag":283,"cm":300},{"Jahr":"1998","Tag":285,"cm":292},{"Jahr":"1998","Tag":287,"cm":300},{"Jahr":"1998","Tag":290,"cm":309},{"Jahr":"1998","Tag":292,"cm":336},{"Jahr":"1998","Tag":295,"cm":353},{"Jahr":"1998","Tag":297,"cm":334},{"Jahr":"1998","Tag":301,"cm":309},{"Jahr":"1998","Tag":303,"cm":319},{"Jahr":"1998","Tag":305,"cm":382},{"Jahr":"1998","Tag":307,"cm":469},{"Jahr":"1998","Tag":310,"cm":522},{"Jahr":"1998","Tag":312,"cm":566},{"Jahr":"1998","Tag":315,"cm":588},{"Jahr":"1998","Tag":317,"cm":573},{"Jahr":"1998","Tag":319,"cm":542},{"Jahr":"1998","Tag":322,"cm":520},{"Jahr":"1998","Tag":324,"cm":510},{"Jahr":"1998","Tag":326,"cm":479},{"Jahr":"1998","Tag":329,"cm":445},{"Jahr":"1998","Tag":331,"cm":431},{"Jahr":"1998","Tag":333,"cm":401},{"Jahr":"1998","Tag":336,"cm":392},{"Jahr":"1998","Tag":338,"cm":372},{"Jahr":"1998","Tag":340,"cm":348},{"Jahr":"1998","Tag":343,"cm":338},{"Jahr":"1998","Tag":345,"cm":329},{"Jahr":"1998","Tag":347,"cm":319},{"Jahr":"1998","Tag":350,"cm":302},{"Jahr":"1998","Tag":352,"cm":348},{"Jahr":"1998","Tag":355,"cm":401},{"Jahr":"1998","Tag":358,"cm":455},{"Jahr":"1998","Tag":361,"cm":416},{"Jahr":"1998","Tag":363,"cm":397},{"Jahr":"1998","Tag":365,"cm":385}
]},
"data": {"name": "pegel"},
"mark": {"type": "line", "strokeJoin": "round"},
"encoding": {
"x": {"field": "Tag", "type": "quantitative",
 "scale": {"domain": [0, 365], "range": [83, 875], "nice": false, "zero": false},
 "axis": {"values": [0,31,59,90,120,151,181,212,243,273,304,334,365],
  "labelExpr": "['1. Jan.','1. Feb.','1. Mrz.','1. Apr.','1. Mai.','1. Jun.','1. Jul.','1. Aug.','1. Sep.','1. Okt.','1. Nov.','1. Dez.',''][indexof([0,31,59,90,120,151,181,212,243,273,304,334,365], datum.value)]",
  "labelAngle": -45, "labelAlign": "right", "labelBaseline": "middle", "labelFontSize": 18, "labelColor": "black",
  "labelPadding": 12, "labelOffset": -6, "labelOverlap": false, "labelFlush": false, "labelBound": false,
  "grid": false, "domainColor": "black", "domainWidth": 2, "tickColor": "black", "tickWidth": 2, "tickSize": 6,
  "offset": -121, "title": "Zeit [Monate]", "titleFontSize": 19, "titleFontWeight": "bold", "titleColor": "black",
  "titleX": 457, "titleY": 97, "titleBaseline": "alphabetic", "titleAlign": "center"}},
"y": {"field": "cm", "type": "quantitative",
 "scale": {"domain": [0, 600], "range": [459, 46], "nice": false},
 "axis": {"values": [0,100,200,300,400,500,600], "grid": true, "gridColor": "black", "gridWidth": 2,
  "domainColor": "black", "domainWidth": 2, "tickColor": "black", "tickWidth": 2, "tickSize": 7,
  "labelFontSize": 18, "labelColor": "black", "labelPadding": 9, "labelFlush": false, "labelBound": false,
  "offset": -83, "title": "cm ü Pegelnull [cm]", "titleFontSize": 20, "titleFontWeight": "bold", "titleColor": "black",
  "titleX": -58, "titleY": 251, "titleAngle": -90, "titleBaseline": "bottom", "titleAlign": "center"}},
"color": {"field": "Jahr", "type": "nominal",
 "scale": {"domain": ["1992","1993","1994","1995","1996","1997","1998"], "range": ["#333300","#ff0000","#00ff00","#33cccc","#00ccff","#ff8080","#3333cc"]},
 "legend": {"orient": "none", "legendX": 129, "legendY": 400, "direction": "horizontal", "title": null,
  "symbolType": "stroke", "symbolSize": 576, "labelFontSize": 17, "labelColor": "black", "labelOffset": 3,
  "columnPadding": 24, "padding": 11, "strokeColor": "black", "fillColor": "white"}},
"strokeWidth": {"field": "Jahr", "type": "nominal",
 "scale": {"type": "ordinal", "domain": ["1992","1993","1994","1995","1996","1997","1998"], "range": [2,2,2,2,2,2,4.5]},
 "legend": {"orient": "none", "legendX": 129, "legendY": 400, "direction": "horizontal", "title": null,
  "symbolType": "stroke", "symbolSize": 576, "labelFontSize": 17, "labelColor": "black", "labelOffset": 3,
  "columnPadding": 24, "padding": 11, "strokeColor": "black", "fillColor": "white"}}
}
}
